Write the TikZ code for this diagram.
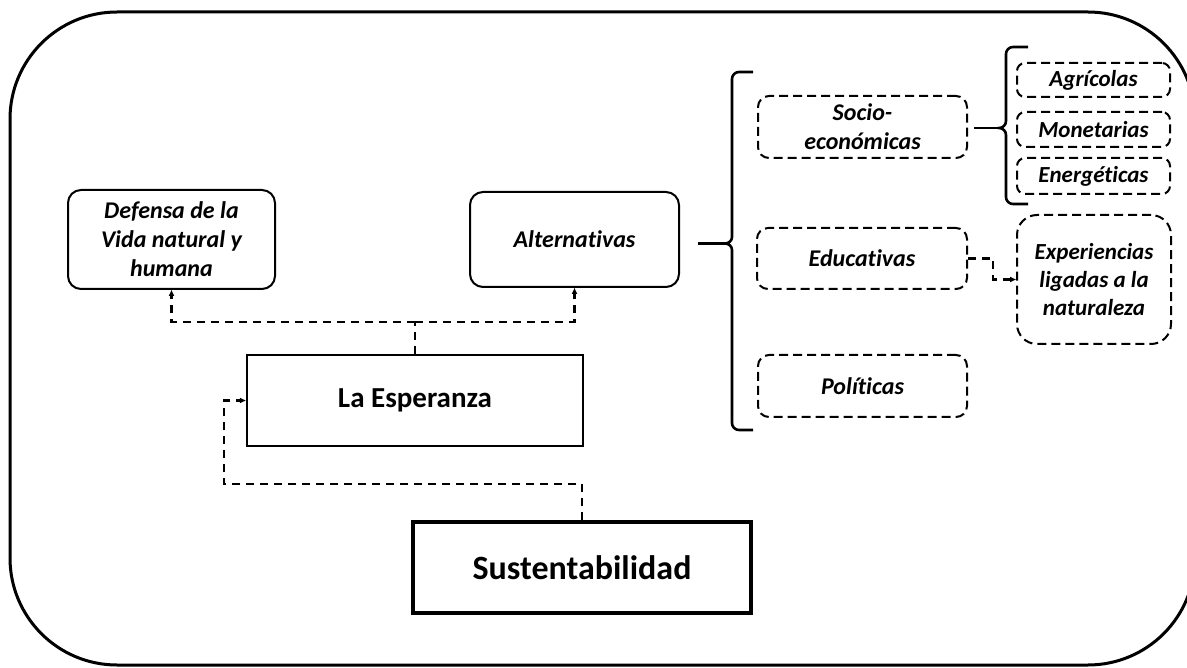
\documentclass[tikz,border=0pt]{standalone}
\usepackage{fontspec}
\setmainfont{Carlito}[Ligatures=NoCommon]
\usetikzlibrary{arrows.meta,calc}
\tikzset{
  lbl/.style={font=\fontsize{24}{29}\selectfont\bfseries\itshape, align=center, inner sep=0pt},
  solidround/.style={lbl, draw, line width=2pt, rounded corners=13pt},
  dashbox/.style={lbl, draw, line width=2pt, rounded corners=11pt, dash pattern=on 9pt off 5pt},
  smallbox/.style={dashbox, font=\fontsize{23}{28}\selectfont\bfseries\itshape},
  mainbox/.style={draw, inner sep=0pt, font=\fontsize{29}{34}\selectfont\bfseries},
  conn/.style={line width=2.2pt, dash pattern=on 8pt off 6pt},
  tip/.style={-{Triangle[length=6pt,width=5pt]}},
  brace/.style={line width=2.6pt}
}
\begin{document}
\begin{tikzpicture}[x=1pt,y=-1pt]
\useasboundingbox (0,0) rectangle (1187,668);
% outer frame
\draw[line width=3pt, rounded corners=107pt] (10,12) rectangle (1195,665);

% nodes
\node[solidround, minimum width=207pt, minimum height=99pt] (def) at (171.5,239.5) {Defensa de la\\Vida natural y\\humana};
\node[solidround, minimum width=209pt, minimum height=95pt] (alt) at (574.5,239.5) {Alternativas};
\node[mainbox, line width=2.4pt, minimum width=336pt, minimum height=91pt] (esp) at (415,400.5) {La Esperanza};
\node[mainbox, line width=3.4pt, minimum width=338pt, minimum height=91pt, font=\fontsize{34}{40}\selectfont\bfseries] (sus) at (582,567.5) {Sustentabilidad};

\node[dashbox, minimum width=209pt, minimum height=62pt] (soc) at (862.5,127) {Socio-\\económicas};
\node[dashbox, minimum width=210pt, minimum height=61pt] (edu) at (862,258.5) {Educativas};
\node[dashbox, minimum width=209pt, minimum height=62pt] (pol) at (862.5,386) {Políticas};

\node[smallbox, minimum width=153pt, minimum height=34pt, rounded corners=8pt] (agr) at (1093.5,80) {Agrícolas};
\node[smallbox, minimum width=153pt, minimum height=35pt, rounded corners=8pt] (mon) at (1093.5,129.5) {Monetarias};
\node[smallbox, minimum width=153pt, minimum height=36pt, rounded corners=8pt] (ene) at (1093.5,176) {Energéticas};
\node[smallbox, minimum width=154pt, minimum height=129pt, rounded corners=20pt] (exp) at (1094,279.5) {Experiencias\\ligadas a la\\naturaleza};

% connectors
\coordinate (j1) at (415,322);
\draw[conn] (esp.north) -- (j1);
\draw[conn,tip] (j1) -| (def.south);
\draw[conn,tip] (j1) -| (alt.south);

\coordinate (k1) at (224,484);
\draw[conn,tip] (sus.north) |- (k1) |- (esp.west);

\draw[conn,tip] (edu.east) -- ++(25,0) |- (exp.west);

% big brace
\coordinate (b1) at (698,243.5);
\draw[brace] (b1) -- (725,243.5);
\draw[brace] (753,72) -- (739,72) to[out=180,in=90] (732,79) -- (732,237)
  to[out=-90,in=0] (725,243.5) to[out=0,in=90] (732,250) -- (732,423)
  to[out=-90,in=180] (739,430) -- (753,430);

% small brace
\coordinate (b2) at (974,128);
\draw[brace] (b2) -- (999,128);
\draw[brace] (1028,47) -- (1013,47) to[out=180,in=90] (1006,54) -- (1006,121)
  to[out=-90,in=0] (999,128) to[out=0,in=90] (1006,135) -- (1006,197)
  to[out=-90,in=180] (1013,204) -- (1028,204);
\end{tikzpicture}
\end{document}
